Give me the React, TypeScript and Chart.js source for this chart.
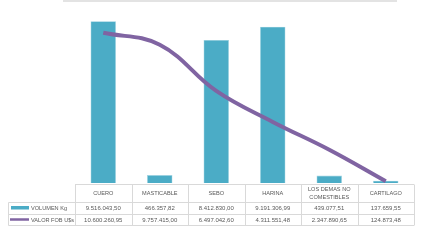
import React, { useEffect, useRef } from "react";
import { Chart, registerables } from "chart.js";

Chart.register(...registerables);

const categories: string[][] = [
  ["CUERO"],
  ["MASTICABLE"],
  ["SEBO"],
  ["HARINA"],
  ["LOS DEMAS NO", "COMESTIBLES"],
  ["CARTILAGO"],
];
const volumenKg = [9516043.5, 466357.82, 8412830.0, 9191306.99, 439077.51, 137659.55];
const valorFob = [10600260.95, 9757415.0, 6497042.6, 4311551.48, 2347890.65, 124873.48];
const seriesNames = ["VOLUMEN Kg", "VALOR FOB U$s"];
const barColor = "#4BACC6";
const lineColor = "#8064A2";

function fmt(v: number): string {
  const [i, d] = v.toFixed(2).split(".");
  return i.replace(/\B(?=(\d{3})+(?!\d))/g, ".") + "," + d;
}

const tablePlugin = {
  id: "dataTable",
  afterDraw(chart: any) {
    const ctx = chart.ctx as CanvasRenderingContext2D;
    const area = chart.chartArea;
    const xs = chart.scales.x;
    const n = categories.length;
    const colW = (area.right - area.left) / n;
    const top = 184.5;
    const hBot = 202.5;
    const r1Bot = 214.5;
    const r2Bot = 225.5;
    const legLeft = 8.5;
    ctx.save();
    // top gray line
    ctx.fillStyle = "#e3e3e3";
    ctx.fillRect(63, 0, 334, 2);
    ctx.strokeStyle = "#d9d9d9";
    ctx.lineWidth = 1;
    ctx.beginPath();
    ctx.moveTo(area.left, top);
    ctx.lineTo(area.right, top);
    ctx.moveTo(area.left, hBot);
    ctx.lineTo(area.right, hBot);
    ctx.moveTo(legLeft, hBot);
    ctx.lineTo(area.left, hBot);
    [r1Bot, r2Bot].forEach((y) => {
      ctx.moveTo(legLeft, y);
      ctx.lineTo(area.right, y);
    });
    for (let i = 0; i <= n; i++) {
      const x = Math.round(area.left + i * colW) + 0.5;
      ctx.moveTo(x, top);
      ctx.lineTo(x, r2Bot);
    }
    ctx.moveTo(legLeft, hBot);
    ctx.lineTo(legLeft, r2Bot);
    ctx.stroke();

    ctx.fillStyle = "#595959";
    ctx.font = "5.6px 'Liberation Sans', Arial, sans-serif";
    ctx.textAlign = "center";
    ctx.textBaseline = "middle";
    categories.forEach((lines, i) => {
      const cx = xs.getPixelForValue(i);
      const mid = (top + hBot) / 2;
      if (lines.length === 1) {
        ctx.fillText(lines[0], cx, mid);
      } else {
        ctx.fillText(lines[0], cx, mid - 4);
        ctx.fillText(lines[1], cx, mid + 4);
      }
      ctx.font = "6px 'Liberation Sans', Arial, sans-serif";
      ctx.fillText(fmt(volumenKg[i]), cx, (hBot + r1Bot) / 2);
      ctx.fillText(fmt(valorFob[i]), cx, (r1Bot + r2Bot) / 2);
      ctx.font = "5.6px 'Liberation Sans', Arial, sans-serif";
    });
    // legend keys
    ctx.fillStyle = barColor;
    ctx.fillRect(11, 206, 18, 3.5);
    ctx.strokeStyle = lineColor;
    ctx.lineWidth = 2.5;
    ctx.beginPath();
    ctx.moveTo(10, 219.5);
    ctx.lineTo(29, 219.5);
    ctx.stroke();
    ctx.fillStyle = "#595959";
    ctx.textAlign = "left";
    ctx.font = "5.6px 'Liberation Sans', Arial, sans-serif";
    ctx.fillText(seriesNames[0], 31, (hBot + r1Bot) / 2);
    ctx.fillText(seriesNames[1], 31, (r1Bot + r2Bot) / 2);
    ctx.restore();
  },
};

export default function App() {
  const ref = useRef<HTMLCanvasElement>(null);
  useEffect(() => {
    if (!ref.current) return;
    const chart = new Chart(ref.current, {
      type: "bar",
      data: {
        labels: categories.map((c) => c.join(" ")),
        datasets: [
          {
            type: "line",
            label: seriesNames[1],
            data: valorFob,
            borderColor: lineColor,
            backgroundColor: lineColor,
            borderWidth: 4,
            tension: 0.4,
            pointRadius: 0,
            yAxisID: "y2",
            order: 0,
          } as any,
          {
            type: "bar",
            label: seriesNames[0],
            data: volumenKg,
            backgroundColor: barColor,
            borderColor: "#9fd3e2",
            borderWidth: 0.6,
            categoryPercentage: 1,
            barPercentage: 0.45,
            yAxisID: "y",
            order: 1,
          },
        ],
      },
      options: {
        animation: false,
        responsive: false,
        maintainAspectRatio: false,
        layout: { padding: { left: 75, right: 29, top: 13, bottom: 59 } },
        plugins: { legend: { display: false }, tooltip: { enabled: false } },
        scales: {
          x: { display: false, offset: true },
          y: { display: false, min: 0, max: 10000000 },
          y2: { display: false, min: 0, max: 12000000, position: "right" },
        },
      },
      plugins: [tablePlugin],
    });
    return () => chart.destroy();
  }, []);
  return (
    <div style={{ position: "fixed", left: 0, top: 0, width: 443, height: 242, background: "#fff" }}>
      <canvas ref={ref} width={443} height={242} style={{ width: 443, height: 242 }} />
    </div>
  );
}
